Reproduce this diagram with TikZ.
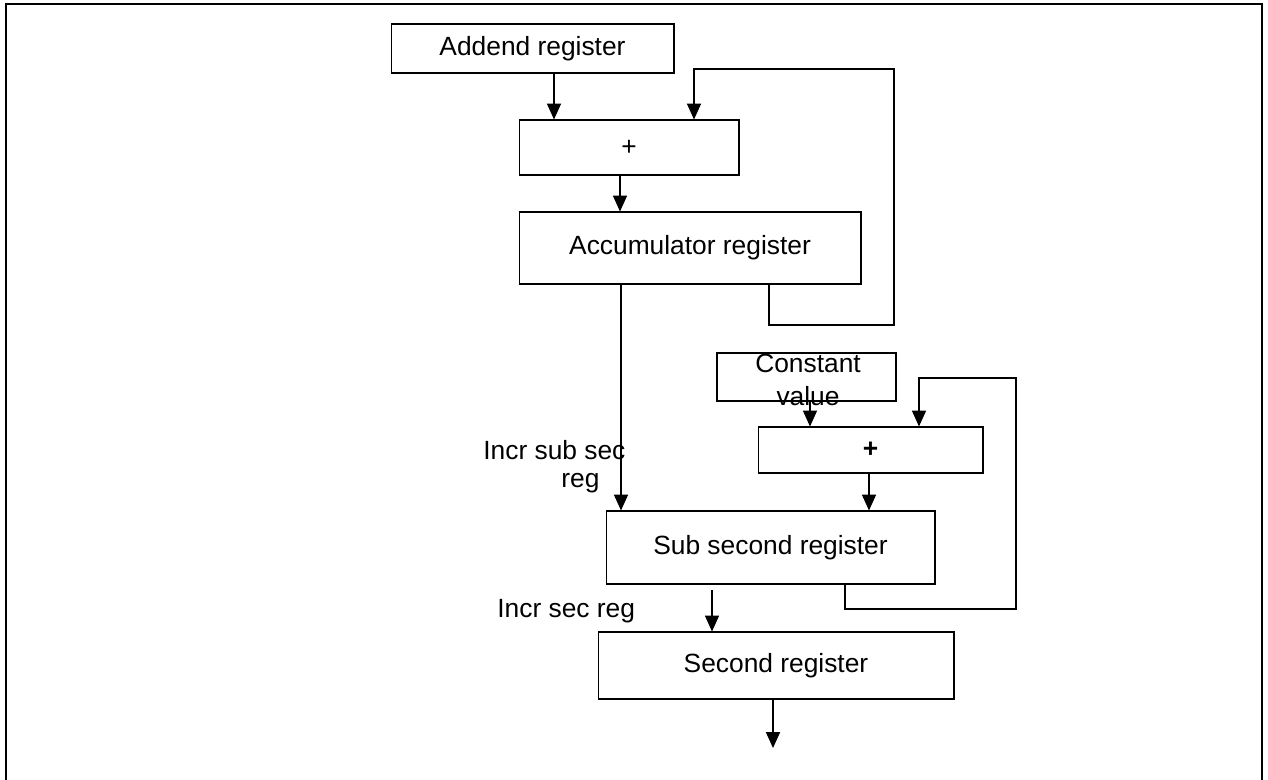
\documentclass[tikz,border=0pt]{standalone}
\usepackage{fontspec}
\setmainfont{Liberation Sans}
\usetikzlibrary{arrows.meta}

\begin{document}
\begin{tikzpicture}[
    x=0.02cm, y=-0.02cm,
    reg/.style={rectangle, draw, line width=0.6pt, inner sep=0pt, font=\fontsize{15}{18}\selectfont},
    arrow/.style={-{Triangle[width=8pt,length=9pt]}, line width=0.6pt},
    lbl/.style={font=\fontsize{15}{16}\selectfont, inner sep=0pt}
]
\useasboundingbox (0,0) rectangle (1268,780);

% Outer frame
\draw[line width=1.1pt] (6,780) -- (6,4) -- (1262,4) -- (1262,780);

% Upper chain
\node[reg, minimum width=5.66cm, minimum height=0.98cm] (addend) at (532.5,48.5) {Addend register};
\node[reg, minimum width=4.4cm, minimum height=1.1cm] (plusA) at (629,147.5) {+};
\node[reg, minimum width=6.84cm, minimum height=1.44cm] (acc) at (690,248) {Accumulator register};

% Lower chain
\node[reg, minimum width=3.58cm, minimum height=0.96cm] (const) at (806.5,377) {};
\node[lbl, align=center, font=\fontsize{15}{19}\selectfont] (constlbl) at (808,380) {Constant\\value};
\node[reg, minimum width=4.5cm, minimum height=0.92cm] (plusB) at (870.5,450) {\textbf{+}};
\node[reg, minimum width=6.58cm, minimum height=1.46cm] (subsec) at (770.5,547.5) {Sub second register};
\node[reg, minimum width=7.12cm, minimum height=1.34cm] (second) at (776,665.5) {Second register};

% Labels
\node[lbl, align=left, anchor=north west] (incrsub) at (483,440) {Incr sub sec\\\hspace*{1.56cm}reg};
\node[lbl, anchor=west] (incrsec) at (497,611) {Incr sec reg};

% Arrows
\draw[arrow] (addend.south -| 554,0) -- (plusA.north -| 554,0);
\draw[arrow] (plusA.south -| 620,0) -- (acc.north -| 620,0);
\draw[arrow] (acc.south -| 621,0) -- (subsec.north -| 621,0);
\draw[arrow] (const.south -| 810,0) -- (plusB.north -| 810,0);
\draw[arrow] (plusB.south -| 869,0) -- (subsec.north -| 869,0);
\draw[arrow] ([yshift=-3pt]subsec.south -| 712,0) -- (second.north -| 712,0);
\coordinate (out) at (773,748);
\draw[arrow] (second.south -| out) -- (out);

% Feedback loops
\draw[arrow] (acc.south -| 769,0) |- (894,325) |- (694,69) -- (plusA.north -| 694,0);
\draw[arrow] (subsec.south -| 845,0) |- (1016,609) |- (919,378) -- (plusB.north -| 919,0);

\end{tikzpicture}
\end{document}
